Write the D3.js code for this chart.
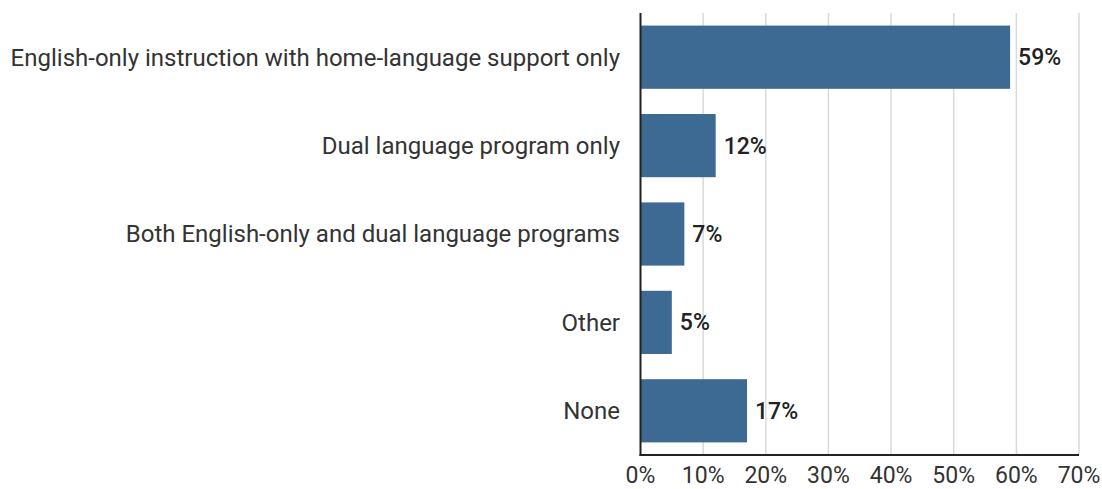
<!DOCTYPE html>
<html><head><meta charset="utf-8">
<script src="https://cdn.jsdelivr.net/npm/d3@7"></script>
<style>body{margin:0;background:#fff;font-family:Roboto,sans-serif}</style>
</head><body><svg id="c" width="1102" height="489"></svg>
<script>
const categories = ["English-only instruction with home-language support only","Dual language program only","Both English-only and dual language programs","Other","None"];
const values = [59, 12, 7, 5, 17];
const ticks = [0,10,20,30,40,50,60,70];

const svg = d3.select("#c");
const x = d3.scaleLinear().domain([0,70]).range([640.5,1079]);
const y = d3.scaleBand().domain(categories).range([13,455]).paddingInner(0.285).paddingOuter(0.1425);

svg.append("g").selectAll("line").data(ticks.slice(1)).join("line")
  .attr("x1",d=>x(d)).attr("x2",d=>x(d)).attr("y1",13).attr("y2",455)
  .attr("stroke","#d9d9d9").attr("stroke-width",1.5);

svg.append("g").selectAll("rect").data(values).join("rect")
  .attr("x",x(0)).attr("y",(d,i)=>y(categories[i]))
  .attr("width",d=>x(d)-x(0)).attr("height",y.bandwidth())
  .attr("fill","#3d6a92");

svg.append("g").selectAll("text").data(values).join("text")
  .attr("x",d=>x(d)+8).attr("y",(d,i)=>y(categories[i])+y.bandwidth()/2)
  .attr("dy","0.35em").attr("font-size",23).attr("font-weight",500).attr("fill","#222")
  .text(d=>d+"%");

svg.append("g").selectAll("text").data(categories).join("text")
  .attr("x",620).attr("y",d=>y(d)+y.bandwidth()/2).attr("dy","0.35em")
  .attr("text-anchor","end").attr("font-size",24).attr("fill","#333").text(d=>d);

svg.append("line").attr("x1",640.5).attr("x2",640.5).attr("y1",13).attr("y2",456).attr("stroke","#222").attr("stroke-width",2);
svg.append("line").attr("x1",639.5).attr("x2",1079).attr("y1",455).attr("y2",455).attr("stroke","#222").attr("stroke-width",2);

svg.append("g").selectAll("text").data(ticks).join("text")
  .attr("x",d=>x(d)).attr("y",483).attr("text-anchor","middle")
  .attr("font-size",23).attr("fill","#333").text(d=>d+"%");
</script></body></html>
